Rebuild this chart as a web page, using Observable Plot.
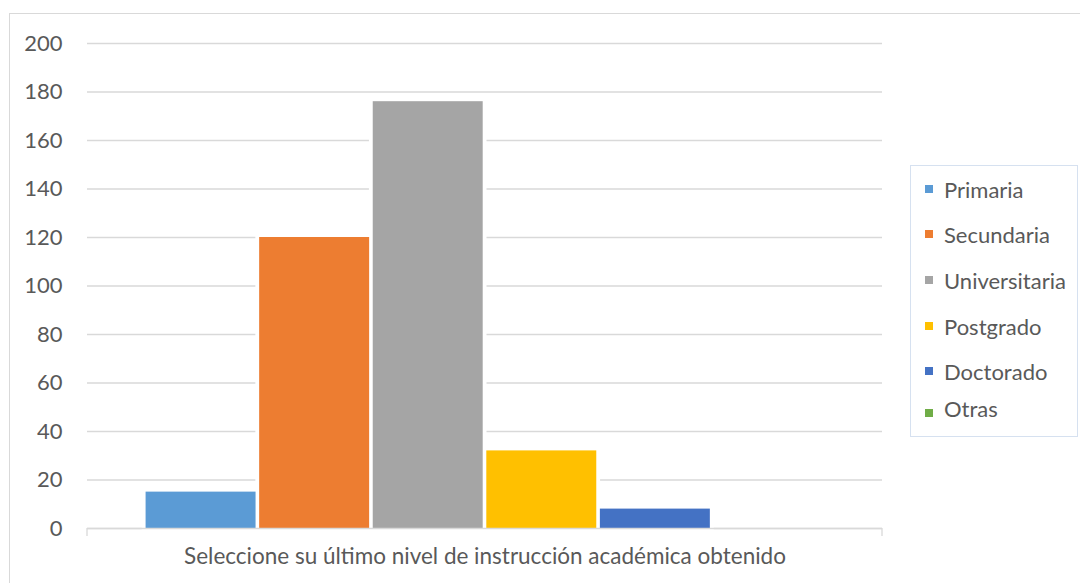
<!DOCTYPE html>
<html>
<head>
<meta charset="utf-8">
<script src="https://cdn.jsdelivr.net/npm/d3@7"></script>
<script src="https://cdn.jsdelivr.net/npm/@observablehq/plot@0.6"></script>
<style>
  html, body { margin: 0; padding: 0; background: #fff; }
  #chart { position: relative; width: 1080px; height: 583px; overflow: hidden; font-family: Lato, "Open Sans", sans-serif; }
  #chart svg { position: absolute; left: 0; top: 0; }
  #border { position: absolute; left: 9px; top: 13px; width: 1090px; height: 600px; border: 1.5px solid #d9d9d9; box-sizing: border-box; pointer-events: none; }
  #legend { position: absolute; left: 910px; top: 165px; width: 168px; height: 272px; border: 1.5px solid #d6e1f0; box-sizing: border-box; background: #fff; }
  .item { position: absolute; left: 14px; height: 26px; display: flex; align-items: center; color: #595959; font-size: 22px; white-space: nowrap; }
  .sw { width: 8px; height: 8px; margin-right: 11px; flex: none; }
</style>
</head>
<body>
<div id="chart"></div>
<script>
// Survey responses: highest academic level attained
const levels = ["Primaria", "Secundaria", "Universitaria", "Postgrado", "Doctorado", "Otras"];
const counts = [15, 120, 176, 32, 8, 0];
const colors = ["#5B9BD5", "#ED7D31", "#A5A5A5", "#FFC000", "#4472C4", "#70AD47"];
const yTicks = [0, 20, 40, 60, 80, 100, 120, 140, 160, 180, 200];
const axisTitle = "Seleccione su último nivel de instrucción académica obtenido";

const data = levels.map((level, i) => ({level, count: counts[i]}));

// Short category-axis ticks at both ends of the plot frame
function edgeTicks(index, scales, values, dim) {
  const g = d3.create("svg:g").attr("stroke", "#d9d9d9").attr("stroke-width", 1.3);
  const y0 = dim.height - dim.marginBottom;
  for (const x of [dim.marginLeft, dim.width - dim.marginRight]) {
    g.append("line").attr("x1", x).attr("x2", x).attr("y1", y0).attr("y2", y0 + 8);
  }
  return g.node();
}

const chart = Plot.plot({
  width: 1080,
  height: 583,
  marginLeft: 87,
  marginRight: 198,
  marginTop: 43,
  marginBottom: 55,
  style: {fontFamily: "Lato, 'Open Sans', sans-serif", fontSize: "22px", color: "#595959", background: "transparent"},
  x: {domain: levels, paddingInner: 0, paddingOuter: 0.5, round: false, axis: null},
  y: {domain: [0, 200], ticks: yTicks, label: null},
  color: {domain: levels, range: colors},
  marks: [
    Plot.gridY(yTicks, {stroke: "#d9d9d9", strokeOpacity: 1, strokeWidth: 1.4}),
    Plot.axisY(yTicks, {tickSize: 0, tickPadding: 25, fill: "#595959", fontSize: 22, label: null}),
    // white halo that keeps gridlines off the bar edges
    Plot.barY(data, {x: "level", y: "count", fill: "white", stroke: "white", strokeWidth: 4}),
    Plot.barY(data, {x: "level", y: "count", fill: "level", insetLeft: 1.8, insetRight: 1.8}),
    Plot.ruleY([0], {stroke: "#d9d9d9", strokeWidth: 1.4}),
    edgeTicks,
    Plot.text([axisTitle], {frameAnchor: "bottom", dy: 35, fontSize: 22.5, fill: "#595959"})
  ]
});

const root = document.getElementById("chart");
root.appendChild(chart);

const border = document.createElement("div");
border.id = "border";
root.appendChild(border);

// Legend: one swatch per level
const legend = document.createElement("div");
legend.id = "legend";
const itemTops = [10, 55, 101, 147, 192, 229];
levels.forEach((level, i) => {
  const item = document.createElement("div");
  item.className = "item";
  item.style.top = itemTops[i] + "px";
  const sw = document.createElement("span");
  sw.className = "sw";
  sw.style.background = colors[i];
  if (level === "Otras") sw.style.marginTop = "10px";
  const label = document.createElement("span");
  label.textContent = level;
  item.appendChild(sw);
  item.appendChild(label);
  legend.appendChild(item);
});
root.appendChild(legend);
</script>
</body>
</html>
